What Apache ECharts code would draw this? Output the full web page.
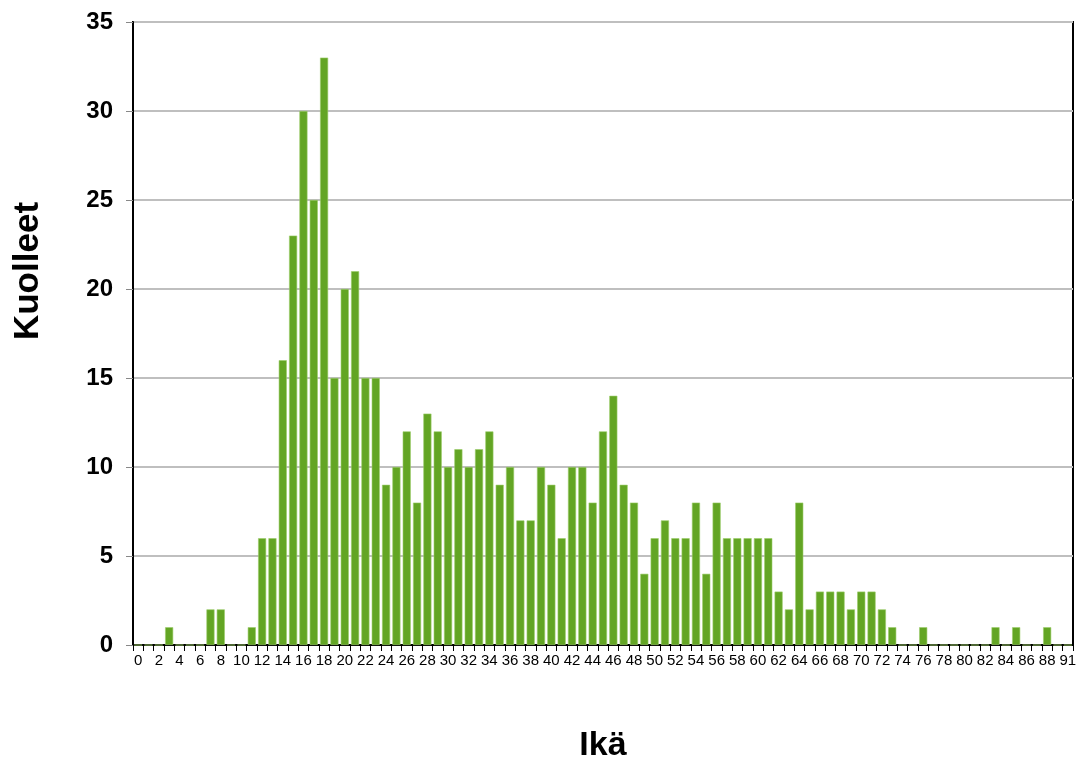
<!DOCTYPE html>
<html><head><meta charset="utf-8">
<script src="https://cdn.jsdelivr.net/npm/echarts@6/dist/echarts.min.js"></script>
<style>html,body{margin:0;padding:0;background:#fff}#c{width:1077px;height:760px}</style>
</head><body><div id="c"></div>
<script>
const ages = [];
for (let a = 0; a <= 89; a++) ages.push(String(a));
ages.push('91');
const deaths = [0,0,0,1,0,0,0,2,2,0,
  0,1,6,6,16,23,30,25,33,15,
  20,21,15,15,9,10,12,8,13,12,
  10,11,10,11,12,9,10,7,7,10,
  9,6,10,10,8,12,14,9,8,4,
  6,7,6,6,8,4,8,6,6,6,
  6,6,3,2,8,2,3,3,3,2,
  3,3,2,1,0,0,1,0,0,0,
  0,0,0,1,0,1,0,0,1,0,
  0];
const yTicks = {min:0, max:35, interval:5};
const xTitle = 'Ikä';
const yTitle = 'Kuolleet';

const chart = echarts.init(document.getElementById('c'), null, {renderer:'canvas'});
const F = '"Liberation Sans", Arial, sans-serif';
chart.setOption({
  animation:false,
  grid:{left:133, right:4, top:22, bottom:115, containLabel:false, outerBoundsMode:'none',
    show:true, borderColor:'#000', borderWidth:2},
  xAxis:{
    type:'category', data:ages,
    name:xTitle, nameLocation:'middle', nameGap:84,
    nameTextStyle:{fontFamily:F, fontWeight:'bold', fontSize:34, color:'#000'},
    axisLine:{lineStyle:{color:'#000', width:2}},
    axisTick:{show:true, interval:0, length:6, lineStyle:{color:'#000', width:1}},
    axisLabel:{interval:1, fontFamily:F, fontSize:15, color:'#000', margin:8}
  },
  yAxis:{
    type:'value', min:yTicks.min, max:yTicks.max, interval:yTicks.interval,
    axisLine:{show:true, lineStyle:{color:'#000', width:2}},
    axisTick:{show:true, length:7, lineStyle:{color:'#888'}},
    axisLabel:{fontFamily:F, fontWeight:'bold', fontSize:24, color:'#000', margin:20},
    splitLine:{lineStyle:{color:'#bfbfbf', width:2}}
  },
  graphic:[{type:'text', rotation:Math.PI/2, x:28, y:271,
    style:{text:yTitle, font:'bold 35px '+F, fill:'#000', textAlign:'center', textVerticalAlign:'middle'}}],
  series:[{type:'bar', data:deaths, barCategoryGap:'22%',
    itemStyle:{color:'#63a524', borderColor:'#9ccc6a', borderWidth:0.6}}]
});
</script></body></html>
